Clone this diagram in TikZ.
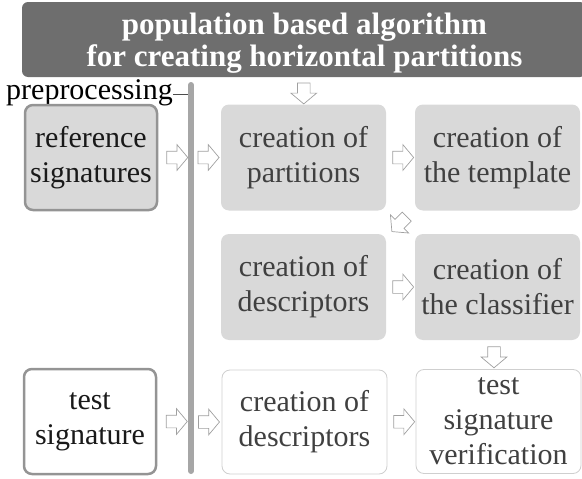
\documentclass[tikz,border=0pt]{standalone}
\usepackage{fontspec}
\setmainfont{LiberationSerif}[Extension=.ttf, UprightFont=*-Regular, BoldFont=*-Bold, ItalicFont=*-Italic, BoldItalicFont=*-BoldItalic]
\usetikzlibrary{shapes.arrows,calc}

\definecolor{titlefill}{HTML}{6E6E6E}
\definecolor{boxfill}{HTML}{D9D9D9}
\definecolor{frame}{HTML}{949494}
\definecolor{thinframe}{HTML}{CFCFCF}
\definecolor{barcol}{HTML}{A6A6A6}
\definecolor{softtext}{HTML}{404040}
\definecolor{arrowline}{HTML}{A0A0A0}

\tikzset{
  basebox/.style={rounded corners=8pt, inner sep=0pt, align=center,
    font=\rmfamily\fontsize{30pt}{35pt}\selectfont},
  graybox/.style={basebox, fill=boxfill, text=softtext,
    minimum width=165pt, minimum height=106pt},
  inputbox/.style={basebox, draw=frame, line width=2.5pt, text=black!90,
    minimum width=132pt, minimum height=105pt},
  whitebox/.style={basebox, fill=white, draw=thinframe, line width=0.8pt,
    text=softtext, minimum width=165pt, minimum height=104pt},
  blockarrow/.style={single arrow, draw=arrowline, fill=white, line width=0.7pt,
    inner xsep=0pt, inner ysep=6pt, single arrow head extend=6.5pt,
    single arrow tip angle=100, minimum height=21pt},
}

\begin{document}
\begin{tikzpicture}[x=1pt, y=-1pt]
  \useasboundingbox (0,0) rectangle (582,479);

  % heading bar and its two-line caption
  \node[rounded corners=6pt, fill=titlefill, inner sep=0pt,
        minimum width=564pt, minimum height=75pt] (titlebox) at (304,39.5) {};
  \node[text=white, inner sep=0pt, align=center,
        font=\rmfamily\fontsize{31pt}{32pt}\selectfont\bfseries]
        (title) at (304.5,43) {population based algorithm\\for creating horizontal partitions};

  % vertical separator and its label
  \coordinate (bartop) at (191,85);
  \coordinate (barbot) at (191,471);
  \draw[barcol, line width=6pt, line cap=round] (bartop) -- (barbot);
  \node[anchor=base west, inner sep=0pt, font=\rmfamily\fontsize{30pt}{35pt}\selectfont]
        (pre) at (6,99) {preprocessing};
  \coordinate (tick) at (188,94);
  \draw[black!70, line width=0.8pt] (pre.east |- tick) -- (tick);

  % inputs
  \node[inputbox, fill=boxfill] (ref) at (91,157.5) {reference\\signatures};
  \node[inputbox, fill=white] (tsig) at (90,421.5) {test\\signature};

  % training stages
  \node[graybox] (part)  at (303.5,157.5) {creation of\\partitions};
  \node[graybox] (templ) at (497.5,157.5) {creation of\\the template};
  \node[graybox] (desc)  at (303.5,287)   {creation of\\descriptors};
  \node[graybox] (clf)   at (497.5,287)   {creation of\\the classifier};

  % verification stages
  \node[whitebox] (tdesc) at (304.5,422) {creation of\\descriptors};
  \node[whitebox] (verif) at (498.5,421.5) {test\\signature\\verification};

  % flow markers
  \node[blockarrow] at ($(ref.east)!0.5!(bartop|-ref.east)$) {};
  \node[blockarrow] at ($(bartop|-part.west)!0.5!(part.west)$) {};
  \node[blockarrow] at ($(part.east)!0.5!(templ.west)$) {};
  \node[blockarrow, rotate=225] at ($(part.south east)!0.5!(desc.north east)+(15,0)$) {};
  \node[blockarrow] at ($(desc.east)!0.5!(clf.west)$) {};
  \node[blockarrow, rotate=-90] at ($(clf.south)!0.5!(verif.north)+(-4,0)$) {};
  \node[blockarrow, rotate=-90] at ($(titlebox.south)!0.5!(part.north)$) {};
  \node[blockarrow] at ($(tsig.east)!0.5!(bartop|-tsig.east)$) {};
  \node[blockarrow] at ($(bartop|-tdesc.west)!0.5!(tdesc.west)$) {};
  \node[blockarrow] at ($(tdesc.east)!0.5!(verif.west)$) {};
\end{tikzpicture}
\end{document}
